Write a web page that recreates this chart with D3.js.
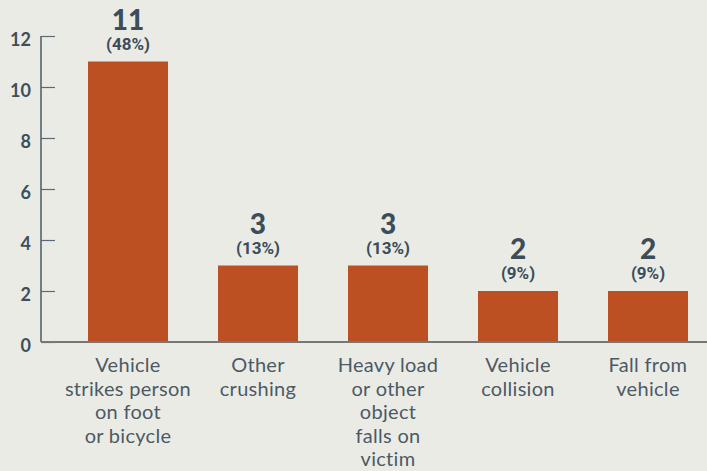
<!DOCTYPE html>
<html>
<head>
<meta charset="utf-8">
<script src="https://cdn.jsdelivr.net/npm/d3@7"></script>
<style>
  body { margin: 0; background: #ebebe6; }
  svg { display: block; font-family: Lato, "Open Sans", sans-serif; }
</style>
</head>
<body>
<div class="bars"></div>
<script>
// data
var categories = [
  "Vehicle\nstrikes person\non foot\nor bicycle",
  "Other\ncrushing",
  "Heavy load\nor other\nobject\nfalls on\nvictim",
  "Vehicle\ncollision",
  "Fall from\nvehicle"
];
var counts = [11, 3, 3, 2, 2];
var shares = ["(48%)", "(13%)", "(13%)", "(9%)", "(9%)"];
var yTicks = [0, 2, 4, 6, 8, 10, 12];

var svgx = 707;
var svgy = 471;
var axisX = 41;
var baseY = 342;
var topY = 36;

var svg = d3.select(".bars")
    .append("svg")
    .attr("width", svgx)
    .attr("height", svgy);

svg.append("rect")
    .attr("width", svgx)
    .attr("height", svgy)
    .attr("fill", "#ebebe6");

var yscale = d3.scaleLinear().domain([0, 12]).range([baseY, topY]);
var xscale = d3.scaleBand()
    .domain(categories)
    .range([axisX, axisX + 694])
    .paddingInner(0.3846)
    .paddingOuter(0.3615);

// bars
svg.selectAll(".bar")
    .data(counts)
    .enter()
    .append("rect")
    .attr("class", "bar")
    .attr("x", function(d, i) { return xscale(categories[i]); })
    .attr("y", function(d) { return yscale(d); })
    .attr("width", xscale.bandwidth())
    .attr("height", function(d) { return baseY - yscale(d); })
    .attr("fill", "#bd5022");

// y axis
var yaxis = d3.axisLeft(yscale)
    .tickValues(yTicks)
    .tickSize(-14)
    .tickPadding(10);

var gy = svg.append("g")
    .attr("transform", "translate(" + axisX + ",0)")
    .call(yaxis);
gy.select(".domain").attr("stroke", "#4a5a66").attr("stroke-width", 1.5)
    .attr("d", "M0," + topY + "V" + baseY);
gy.selectAll(".tick line").attr("stroke", "#5b6a74").attr("stroke-width", 1.2);
gy.selectAll(".tick text")
    .attr("fill", "#3d4f5b")
    .attr("font-size", "18px")
    .attr("font-weight", "bold")
    .attr("font-family", "Lato, sans-serif")
    .attr("dy", "0.55em");

// baseline
svg.append("line")
    .attr("x1", axisX)
    .attr("x2", svgx)
    .attr("y1", baseY)
    .attr("y2", baseY)
    .attr("stroke", "#777")
    .attr("stroke-width", 2);

// value labels
svg.selectAll(".val")
    .data(counts)
    .enter()
    .append("text")
    .attr("class", "val")
    .attr("x", function(d, i) { return xscale(categories[i]) + xscale.bandwidth() / 2; })
    .attr("y", function(d) { return yscale(d) - 32; })
    .attr("text-anchor", "middle")
    .attr("font-size", "28px")
    .attr("font-weight", "900")
    .attr("fill", "#3b4d59")
    .text(function(d) { return d; });

svg.selectAll(".pct")
    .data(shares)
    .enter()
    .append("text")
    .attr("class", "pct")
    .attr("x", function(d, i) { return xscale(categories[i]) + xscale.bandwidth() / 2; })
    .attr("y", function(d, i) { return yscale(counts[i]) - 12; })
    .attr("text-anchor", "middle")
    .attr("font-family", "Roboto, sans-serif")
    .attr("font-size", "17px")
    .attr("font-weight", "bold")
    .attr("fill", "#3b4d59")
    .text(function(d) { return d; });

// category labels
var cats = svg.selectAll(".cat")
    .data(categories)
    .enter()
    .append("text")
    .attr("class", "cat")
    .attr("text-anchor", "middle")
    .attr("font-size", "20px")
    .attr("letter-spacing", "0.3px")
    .attr("fill", "#4b5a65");

cats.each(function(c) {
    var cx = xscale(c) + xscale.bandwidth() / 2;
    d3.select(this).selectAll("tspan")
        .data(c.split("\n"))
        .enter()
        .append("tspan")
        .attr("x", cx)
        .attr("y", function(d, i) { return 372 + i * 23.6; })
        .text(function(d) { return d; });
});
</script>
</body>
</html>
